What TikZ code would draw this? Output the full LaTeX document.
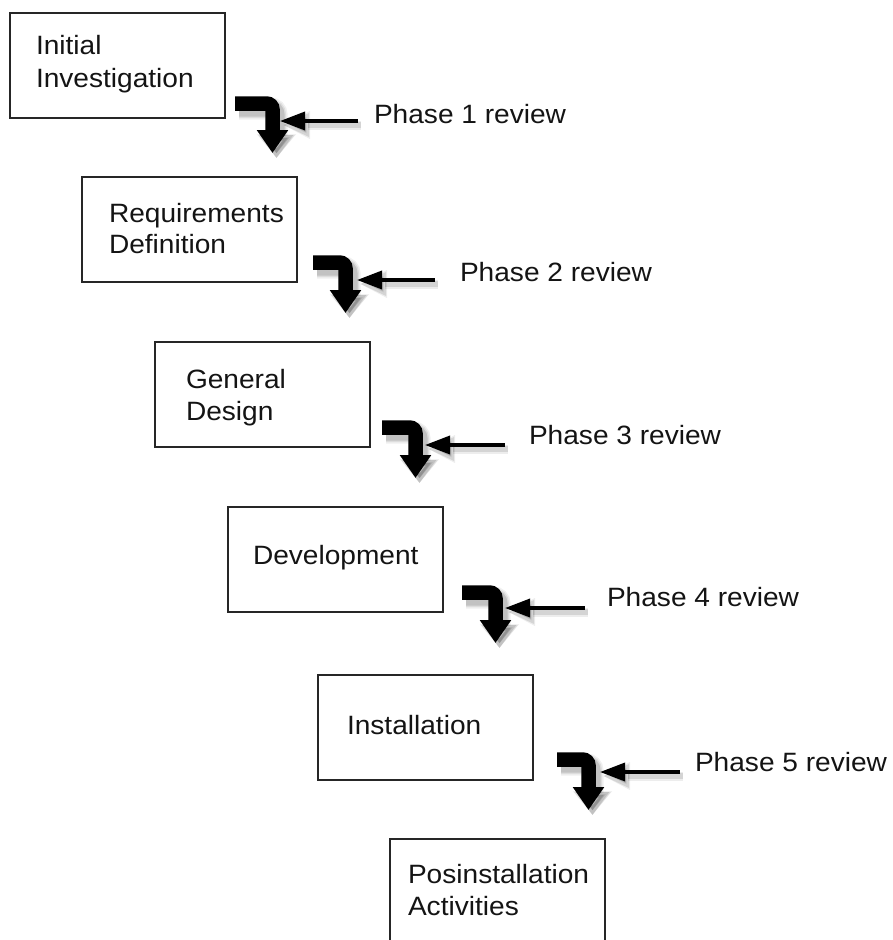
\documentclass[tikz,border=0pt]{standalone}
\usepackage{fontspec}
\setmainfont{Liberation Sans}[FakeStretch=1.06]
\usetikzlibrary{arrows.meta}
\definecolor{boxline}{HTML}{262626}
\definecolor{ink}{HTML}{141414}
\begin{document}
\begin{tikzpicture}[x=1pt,y=-1pt,
  stage/.style={draw=boxline,line width=1.3pt,fill=white,minimum width=215pt,
    minimum height=105pt,inner sep=0pt,outer sep=0pt,anchor=north west},
  stagetext/.style={anchor=base west,inner sep=0pt,outer sep=0pt,text=ink,
    font=\fontsize{26.5}{32}\selectfont},
  phaseflow/.style={line width=14.5pt,rounded corners=6pt,
    -{Triangle[length=23pt,width=30pt]}},
  flowshade/.style={
    preaction={draw=black,opacity=0.06,line width=22pt,
      -{Triangle[length=24pt,width=38pt]},transform canvas={shift={(4pt,-5pt)}}},
    preaction={draw=black,opacity=0.08,line width=19pt,
      -{Triangle[length=23pt,width=35pt]},transform canvas={shift={(4pt,-5pt)}}},
    preaction={draw=black,opacity=0.12,line width=16pt,
      -{Triangle[length=23pt,width=32pt]},transform canvas={shift={(4pt,-5pt)}}}},
  reviewarrow/.style={line width=3.5pt,-{Triangle[length=25pt,width=18pt]}},
  reviewshade/.style={
    preaction={draw=black,opacity=0.07,line width=9pt,
      -{Triangle[length=27pt,width=26pt]},transform canvas={shift={(3pt,-4pt)}}},
    preaction={draw=black,opacity=0.10,line width=6pt,
      -{Triangle[length=26pt,width=22pt]},transform canvas={shift={(3pt,-4pt)}}}},
]
\clip (0,0) rectangle (892,940);
\fill[white] (0,0) rectangle (892,940);

% phase boxes
\node[stage] (b1) at (10,13)   {};
\node[stage] (b2) at (82,177)  {};
\node[stage] (b3) at (155,342) {};
\node[stage] (b4) at (228,507) {};
\node[stage] (b5) at (318,675) {};
\node[stage] (b6) at (390,839) {};

% box captions
\node[stagetext] (t1a) at (36,54.5)  {Initial};
\node[stagetext] (t1b) at (36,87)    {Investigation};
\node[stagetext] (t2a) at (109,222)  {Requirements};
\node[stagetext] (t2b) at (109,253.5){Definition};
\node[stagetext] (t3a) at (186,388)  {General};
\node[stagetext] (t3b) at (186,420)  {Design};
\node[stagetext] (t4)  at (253,564)  {Development};
\node[stagetext] (t5)  at (347,734)  {Installation};
\node[stagetext] (t6a) at (408,883)  {Posinstallation};
\node[stagetext] (t6b) at (408,915)  {Activities};

% review labels
\node[stagetext] (r1) at (374,123) {Phase 1 review};
\node[stagetext] (r2) at (460,281) {Phase 2 review};
\node[stagetext] (r3) at (529,444) {Phase 3 review};
\node[stagetext] (r4) at (607,606) {Phase 4 review};
\node[stagetext] (r5) at (695,771) {Phase 5 review};

% bend points of the flow arrows and ends of the review arrows
\foreach \i/\sx/\by/\bl/\ty/\ry/\rt/\rs in {
    1/272.5/103.5/235/153/121/280/358,
    2/345.5/262.5/313/313/280/357/435,
    3/415.5/427.5/382/478/445/425/505,
    4/495.5/592.5/462/643/608/505/585,
    5/588.5/759.5/557/810/772/600/680}{
  \coordinate (start\i) at (\bl,\by);
  \coordinate (bend\i)  at (\sx,\by);
  \coordinate (tip\i)   at (\sx,\ty);
  \coordinate (rtail\i) at (\rs,\ry);
  \coordinate (rtip\i)  at (\rt,\ry);
}

% flow arrows between phases, with the review arrows pointing at them
\foreach \i in {1,...,5}{
  \draw[phaseflow,flowshade] (start\i) -- (bend\i) -- (tip\i);
  \draw[reviewarrow,reviewshade] (rtail\i) -- (rtip\i);
}
\end{tikzpicture}
\end{document}
